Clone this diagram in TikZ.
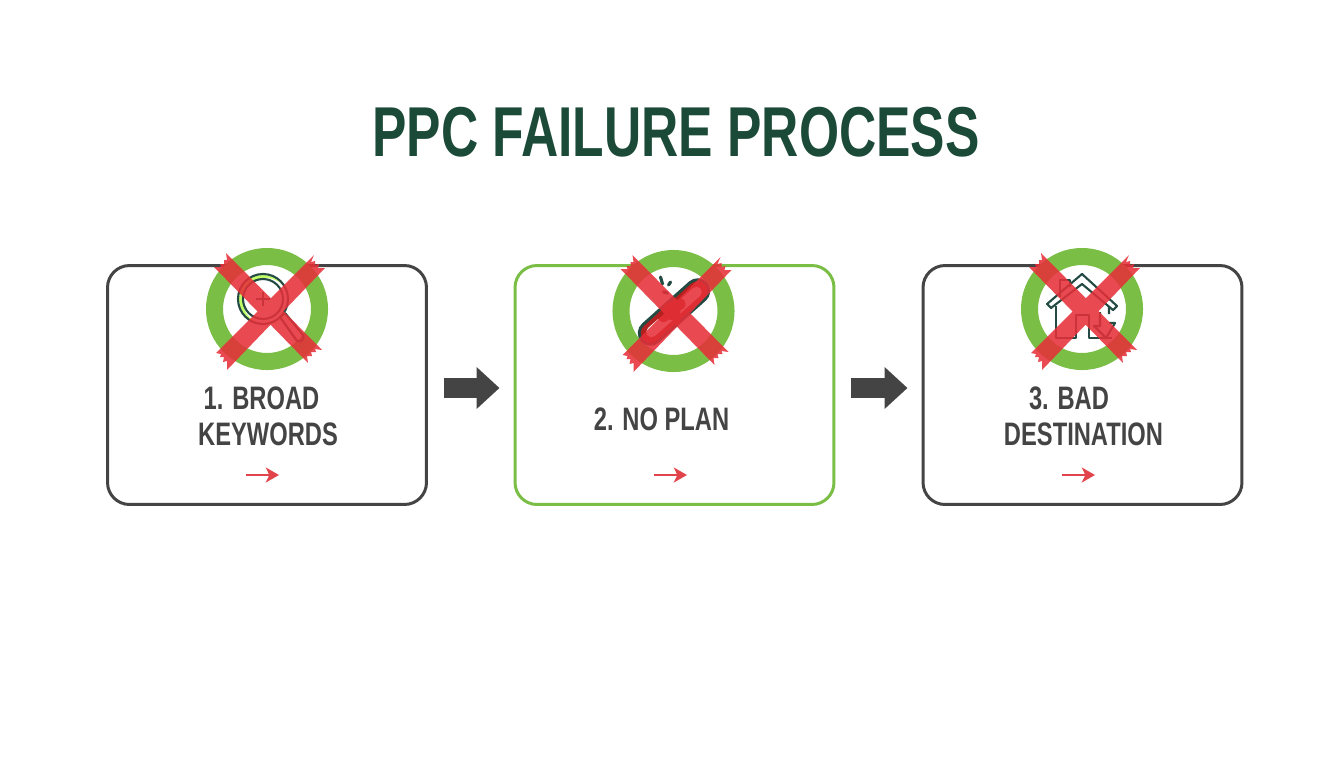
\documentclass[tikz,border=0pt]{standalone}
\usepackage{fontspec}
\usepackage{xcolor}
\usetikzlibrary{arrows.meta}
\setmainfont[FakeStretch=0.73]{Liberation Sans}
\newfontfamily\titlefont[FakeStretch=0.73]{Liberation Sans}
\definecolor{titlegreen}{HTML}{1C4A38}
\definecolor{ringgreen}{HTML}{7ABE46}
\definecolor{inkgray}{HTML}{444444}
\definecolor{crossred}{HTML}{E62F38}
\definecolor{arrowred}{HTML}{E2444C}
\definecolor{icondark}{HTML}{234B43}
\definecolor{linkred}{HTML}{B3201F}
\tikzset{
  titletext/.style={font=\titlefont\bfseries\fontsize{40.2}{48}\selectfont, text=titlegreen},
  steptext/.style={font=\bfseries\fontsize{18.5}{20.5}\selectfont, text=inkgray, align=center},
  stepbox/.style={draw=inkgray, line width=1.7pt, rounded corners=12.5pt, minimum width=6.38cm, minimum height=4.78cm},
  ring/.style={draw=ringgreen, line width=9.7pt, fill=white},
  iconline/.style={draw=icondark, line width=1.2pt, line join=round},
  bigarrow/.style={draw=inkgray, line width=11pt, -{Triangle[length=13pt,width=23pt]}},
  redarrow/.style={draw=arrowred, line width=1.6pt, -{Stealth[length=7.5pt,width=8.5pt,inset=2pt]}}
}
% torn red cross, drawn over whatever is at the origin of the scope
\newcommand{\failcross}{%
  \fill[crossred, fill opacity=0.87]
    (-41,-56) -- (-40,-49) -- (-43,-49) -- (-43,-45) -- (-47,-45) -- (-46,-42) -- (-53,-42)
    -- (41,54) -- (40,47) -- (45,47) -- (44,43) -- (49,43) -- (48,40) -- (55,41) -- cycle
    (-51,44) -- (-46,45) -- (-47,48) -- (-43,48) -- (-44,53) -- (-40,52) -- (-40,61)
    -- (58,-41) -- (51,-41) -- (52,-45) -- (48,-44) -- (48,-48) -- (44,-47) -- (47,-54) -- cycle;
}
\begin{document}
\begin{tikzpicture}[x=0.02cm, y=-0.02cm]
\useasboundingbox (0,0) rectangle (1344,768);
\node[titletext] (title) at (676,132) {PPC FAILURE PROCESS};

% boxes
\node[stepbox] (box1) at (267,385) {};
\node[stepbox, draw=ringgreen] (box2) at (674.5,385) {};
\node[stepbox] (box3) at (1082.5,385) {};

% arrows between boxes
\draw[bigarrow, shorten <=9pt, shorten >=8pt] ([yshift=-0.06cm]box1.east) -- ([yshift=-0.06cm]box2.west);
\draw[bigarrow, shorten <=9pt, shorten >=8pt] ([yshift=-0.06cm]box2.east) -- ([yshift=-0.06cm]box3.west);

% step 1: magnifier
\begin{scope}[shift={(267,309)}]
\draw[ring] (0,0) circle (52.5);
\fill[green!40!yellow!60!white] (-4,-10) circle (24);
\fill[white] (-1,-8) circle (23);
\draw[iconline] (-4,-10) circle (25);
\draw[iconline] (-4,-10) circle (20);
\draw[iconline] (-11,-10) -- (3,-10) (-4,-17) -- (-4,-3);
\draw[iconline] (13,8) -- (18,4) -- (36,26) .. controls (38,30) and (34,34) .. (30,32) -- (13,8);
\failcross
\end{scope}

% step 2: broken link
\begin{scope}[shift={(673.5,311)}]
\draw[ring] (0,0) circle (52.5);
\draw[icondark, line width=14.5pt, line cap=round] (-23,22) -- (24,-20);
\draw[linkred, line width=11pt, line cap=round] (-23,22) -- (24,-20);
\draw[white, line width=6pt, line cap=round] (-22,21) -- (23,-19);
\fill[linkred] (-2,0) circle (9) (6,-7) circle (6) (-10,5) circle (6) (3,10) circle (4);
\draw[icondark, line width=1.8pt, line cap=round] (-13,-34) -- (-11,-27) (-3,-29) -- (-5,-26) (-10,-19) -- (-6,-18);
\failcross
\end{scope}

% step 3: house
\begin{scope}[shift={(1082,309)}]
\draw[ring] (0,0) circle (52.5);
\draw[iconline] (-35,-5) -- (0,-35) -- (35,-3) -- (31,1) -- (0,-25) -- (-31,-1) -- cycle;
\draw[iconline] (-22,-12) -- (-22,-29) -- (-12,-29) -- (-12,-22);
\draw[iconline] (-26,-3) -- (-26,29) -- (-6,29) -- (-6,6) -- (7,6) -- (7,29) -- (30,29);
\draw[iconline] (27,-3) -- (27,5) (18,3) -- (18,17) -- (12,17) -- (24,29) -- (33,14) -- (27,14);
\failcross
\end{scope}

% step labels
\node[steptext] (label1) at (268,416) {1. BROAD\hspace*{7.4pt}\\KEYWORDS};
\node[steptext] (label2) at (661.5,419) {2. NO PLAN};
\node[steptext] (label3) at (1083.5,416) {3. BAD\hspace*{16.5pt}\\DESTINATION};

% small red arrows
\coordinate (start1) at (246,475);
\coordinate (end1) at (279,475);
\coordinate (start2) at (654,475);
\coordinate (end2) at (687,475);
\coordinate (start3) at (1062,475);
\coordinate (end3) at (1095,475);
\draw[redarrow] (start1) -- (end1);
\draw[redarrow] (start2) -- (end2);
\draw[redarrow] (start3) -- (end3);
\end{tikzpicture}
\end{document}
